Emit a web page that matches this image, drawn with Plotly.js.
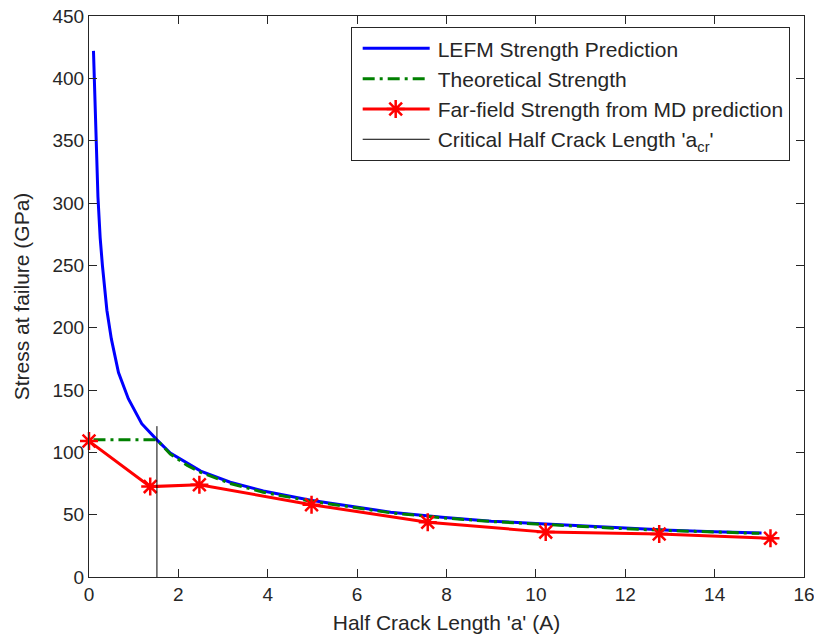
<!DOCTYPE html>
<html>
<head>
<meta charset="utf-8">
<script src="https://cdn.plot.ly/plotly-3.0.1.min.js"></script>
<style>
  html, body { margin: 0; padding: 0; background: #fff; }
  #chart { width: 814px; height: 638px; }
</style>
</head>
<body>
<div id="chart"></div>
<script>
// LEFM strength prediction (GPa) vs half crack length a (Angstrom)
const lefmA = [0.1, 0.13, 0.16, 0.2, 0.25, 0.3, 0.4, 0.5, 0.66, 0.88, 1.18, 1.52, 1.82, 2.2, 2.5, 3.16, 3.9, 4.96, 5.7, 6.75, 7.9, 9, 10, 11, 12, 13, 14, 15.05];
const lefmS = [422, 385, 345, 305, 272, 250, 214, 191, 164, 143, 123, 110, 99.5, 91, 85, 76, 69, 61.5, 57.8, 52, 48, 44.8, 43, 41, 39, 37.5, 36.3, 35.3];

// Theoretical strength: capped at the ideal strength below the critical length
const theoA = [0.1, 1.52, 1.82, 2.2, 2.5, 3.16, 3.9, 4.96, 5.7, 6.75, 7.9, 9, 10, 11, 12, 13, 14, 15];
const theoS = [110, 110, 98.5, 89.5, 84, 75, 68, 60.8, 57, 51.5, 47.5, 44.5, 42.5, 40.5, 38.7, 37.2, 36, 35];

// Far-field strength from MD simulations
const mdA = [0, 1.37, 2.47, 4.98, 7.58, 10.22, 12.76, 15.25];
const mdS = [109, 72.5, 74, 58, 44, 36, 34.5, 31];

// Critical half crack length marker
const critA = [1.52, 1.52];
const critS = [0, 121];

const xTicks = [0, 2, 4, 6, 8, 10, 12, 14, 16];
const yTicks = [0, 50, 100, 150, 200, 250, 300, 350, 400, 450];

const FONT = '"Liberation Sans", Arial, sans-serif';
const INK = '#262626';

const traces = [
  {
    x: lefmA, y: lefmS, type: 'scatter', mode: 'lines',
    name: 'LEFM Strength Prediction', legendgroup: 'g1',
    line: { color: '#0000ff', width: 3 }
  },
  {
    x: theoA, y: theoS, type: 'scatter', mode: 'lines',
    name: 'Theoretical Strength', legendgroup: 'g2',
    line: { color: '#008000', width: 3, dash: '12px,5px,3px,5px' }
  },
  {
    x: mdA, y: mdS, type: 'scatter', mode: 'lines+markers',
    name: 'Far-field Strength from MD prediction', legendgroup: 'g3',
    line: { color: '#ff0000', width: 3 },
    marker: { symbol: 'asterisk-open', size: 15, color: '#ff0000', line: { color: '#ff0000', width: 2.5 } },
    cliponaxis: false
  },
  {
    x: critA, y: critS, type: 'scatter', mode: 'lines',
    name: "Critical Half Crack Length 'a<sub>cr</sub>'", legendgroup: 'g4',
    line: { color: '#000000', width: 1 }
  }
];

const axisCommon = {
  showgrid: false, zeroline: false,
  showline: true, linecolor: INK, linewidth: 1, mirror: 'ticks',
  ticks: 'inside', ticklen: 8, tickcolor: INK, tickwidth: 1,
  ticklabeloverflow: 'allow',
  tickfont: { family: FONT, size: 19, color: INK }
};

const layout = {
  width: 814, height: 638,
  margin: { l: 89, r: 10, t: 16, b: 61 },
  paper_bgcolor: '#fff', plot_bgcolor: '#fff',
  font: { family: FONT, color: INK },
  showlegend: true,
  xaxis: Object.assign({}, axisCommon, {
    range: [0, 16], tickvals: xTicks, ticktext: xTicks.map(String),
    title: { text: "Half Crack Length 'a' (A)", font: { family: FONT, size: 21, color: INK }, standoff: 11 }
  }),
  yaxis: Object.assign({}, axisCommon, {
    range: [0, 450], tickvals: yTicks, ticktext: yTicks.map(String),
    title: { text: 'Stress at failure (GPa)', font: { family: FONT, size: 21, color: INK }, standoff: 17 }
  }),
  legend: {
    x: 0.366, y: 0.98, xanchor: 'left', yanchor: 'top',
    bgcolor: '#fff', bordercolor: INK, borderwidth: 1,
    font: { family: FONT, size: 21, color: INK },
    tracegroupgap: 0, itemwidth: 76
  }
};

Plotly.newPlot('chart', traces, layout, { staticPlot: true }).then(function (gd) {
  // lengthen legend line samples and centre the marker on them
  gd.querySelectorAll('.legend .traces').forEach(function (t) {
    t.querySelectorAll('.legendlines path').forEach(function (p) {
      p.setAttribute('d', 'M11,0h67');
    });
    t.querySelectorAll('.legendpoints path').forEach(function (p) {
      p.setAttribute('transform', 'translate(44,0)');
    });
  });
});
</script>
</body>
</html>
